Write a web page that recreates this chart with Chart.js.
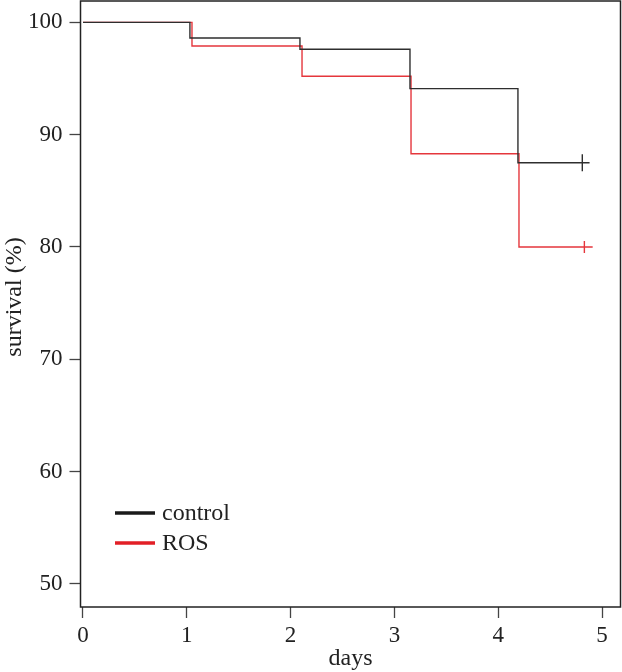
<!DOCTYPE html>
<html><head><meta charset="utf-8">
<script src="https://cdn.jsdelivr.net/npm/chart.js@4"></script>
<style>html,body{margin:0;padding:0;background:#fff}#wrap{width:622px;height:672px;position:relative}</style>
</head><body><div id="wrap"><canvas id="c"></canvas></div>
<script>
const xTicks = [0, 1, 2, 3, 4, 5];
const yTicks = [50, 60, 70, 80, 90, 100];
const seriesNames = ['control', 'ROS'];
const controlTimes = [0, 1.03, 2.09, 3.15, 4.19, 4.88];
const controlSurvival = [100, 98.6, 97.6, 94.1, 87.5, 87.5];
const controlCensorTimes = [4.81];
const controlCensorSurvival = [87.5];
const rosTimes = [0, 1.05, 2.11, 3.16, 4.2, 4.91];
const rosSurvival = [100, 97.9, 95.2, 88.3, 80, 80];
const rosCensorTimes = [4.83];
const rosCensorSurvival = [80];
const xTitle = 'days';
const yTitle = 'survival (%)';

const FONT = '"Liberation Serif", "DejaVu Serif", serif';
const BLACK = '#2e2e2e';
const RED = '#e5363c';

const pts = (xs, ys) => xs.map((x, i) => ({x, y: ys[i]}));

const framePlugin = {
  id: 'frame',
  afterDraw(chart) {
    const {ctx, chartArea: a} = chart;
    ctx.save();
    ctx.strokeStyle = '#222';
    ctx.lineWidth = 1.5;
    ctx.strokeRect(a.left, a.top, a.right - a.left, a.bottom - a.top);
    ctx.fillStyle = '#222';
    ctx.font = '24px ' + FONT;
    ctx.textAlign = 'center';
    ctx.textBaseline = 'alphabetic';
    ctx.fillText(xTitle, (a.left + a.right) / 2, 665);
    ctx.translate(21, 297);
    ctx.rotate(-Math.PI / 2);
    ctx.fillText(yTitle, 0, 0);
    ctx.restore();
    ctx.save();
    const items = [{label: seriesNames[0], color: '#1a1a1a'}, {label: seriesNames[1], color: '#e21f26'}];
    items.forEach((it, i) => {
      const y = 513 + i * 30;
      ctx.strokeStyle = it.color;
      ctx.lineWidth = 3.5;
      ctx.beginPath();
      ctx.moveTo(115, y);
      ctx.lineTo(155, y);
      ctx.stroke();
      ctx.fillStyle = '#222';
      ctx.font = '24px ' + FONT;
      ctx.textAlign = 'left';
      ctx.textBaseline = 'middle';
      ctx.fillText(it.label, 162, y + 1);
    });
    ctx.restore();
  }
};

const tickGrid = {display: true, drawOnChartArea: false, drawTicks: true, tickLength: 11, tickColor: '#444', tickWidth: 1.3};
const noPad = s => { s.paddingTop = 0; s.paddingBottom = 0; s.paddingLeft = 0; s.paddingRight = 0; };

new Chart(document.getElementById('c'), {
  type: 'line',
  data: {
    datasets: [
      {label: seriesNames[0], data: pts(controlTimes, controlSurvival), borderColor: BLACK, borderWidth: 1.4, stepped: true, pointRadius: 0, fill: false},
      {label: seriesNames[1], data: pts(rosTimes, rosSurvival), borderColor: RED, borderWidth: 1.4, stepped: true, pointRadius: 0, fill: false},
      {label: seriesNames[0] + ' censored', data: pts(controlCensorTimes, controlCensorSurvival), showLine: false, pointStyle: 'line', rotation: 90, pointRadius: 8.5, borderColor: BLACK, borderWidth: 1.4},
      {label: seriesNames[1] + ' censored', data: pts(rosCensorTimes, rosCensorSurvival), showLine: false, pointStyle: 'line', rotation: 90, pointRadius: 6, borderColor: RED, borderWidth: 1.4}
    ]
  },
  options: {
    responsive: true,
    maintainAspectRatio: false,
    animation: false,
    layout: {autoPadding: false, padding: {top: 1, right: 1.5, left: 0, bottom: 0}},
    plugins: {legend: {display: false}, tooltip: {enabled: false}},
    scales: {
      x: {
        type: 'linear', min: -0.024, max: 5.178,
        afterBuildTicks: s => { s.ticks = xTicks.map(v => ({value: v})); },
        afterFit: s => { s.height = 65; noPad(s); },
        grid: tickGrid, border: {display: false},
        ticks: {color: '#222', font: {family: FONT, size: 23}, padding: 4}
      },
      y: {
        type: 'linear', min: 47.95, max: 101.9,
        afterBuildTicks: s => { s.ticks = yTicks.map(v => ({value: v})); },
        afterFit: s => { s.width = 80.5; noPad(s); },
        grid: tickGrid, border: {display: false},
        ticks: {color: '#222', font: {family: FONT, size: 23}, padding: 7}
      }
    }
  },
  plugins: [framePlugin]
});
</script>
</body></html>
